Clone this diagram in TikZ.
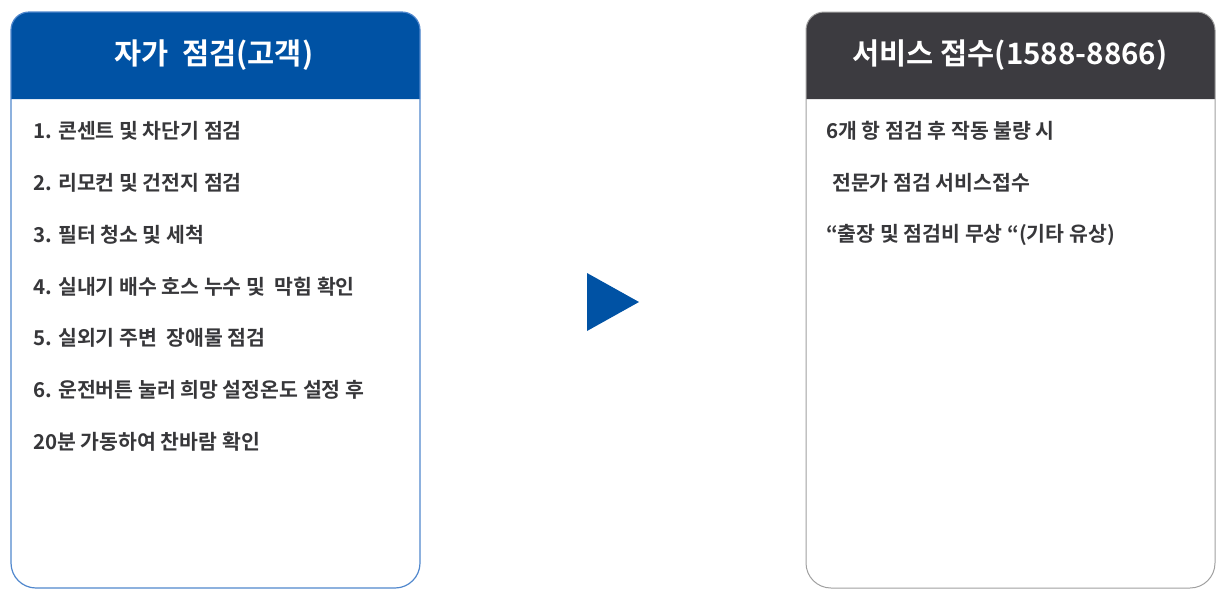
\documentclass[tikz,border=0pt]{standalone}
\usepackage{fontspec}
\setmainfont{Noto Sans CJK KR}[BoldFont={* Bold}]
\newfontfamily\kr{Noto Sans CJK KR}[BoldFont={* Bold}]
\definecolor{hblue}{RGB}{0,82,164}
\definecolor{bblue}{RGB}{80,135,205}
\definecolor{hgray}{RGB}{60,59,64}
\definecolor{bgray}{RGB}{160,160,160}
\definecolor{txt}{RGB}{55,55,58}
\tikzset{
  x=1pt,y=-1pt,
  item/.style={anchor=west,inner sep=0pt,font=\kr\bfseries\fontsize{20.5}{22}\selectfont,text=txt},
  title/.style={inner sep=0pt,font=\kr\bfseries\fontsize{29.5}{31}\selectfont,text=white},
}
\begin{document}
\begin{tikzpicture}
\useasboundingbox (0,0) rectangle (1228,595);
% left box
\fill[hblue] (11,99) -- (11,30) arc[start angle=180,end angle=270,radius=18] -- (402,12) arc[start angle=270,end angle=360,radius=18] -- (420,99) -- cycle;
\draw[bblue,line width=1.2pt] (11,99) -- (11,30) arc[start angle=180,end angle=270,radius=18] -- (402,12) arc[start angle=270,end angle=360,radius=18] -- (420,563) arc[start angle=0,end angle=90,radius=25] -- (36,588) arc[start angle=90,end angle=180,radius=25] -- cycle;
% right box
\fill[hgray] (806,99) -- (806,30) arc[start angle=180,end angle=270,radius=18] -- (1197,12) arc[start angle=270,end angle=360,radius=18] -- (1215,99) -- cycle;
\draw[bgray,line width=1pt] (806,99) -- (806,30) arc[start angle=180,end angle=270,radius=18] -- (1197,12) arc[start angle=270,end angle=360,radius=18] -- (1215,563) arc[start angle=0,end angle=90,radius=25] -- (831,588) arc[start angle=90,end angle=180,radius=25] -- cycle;
% titles
\node[title] (t1) at (214,55) {자가\ \ 점검(고객)};
\node[title] (t2) at (1010,55) {서비스 접수(1588-8866)};
% left items
\node[item] (a1) at (33,131) {1. 콘센트 및 차단기 점검};
\node[item] (a2) at (33,183) {2. 리모컨 및 건전지 점검};
\node[item] (a3) at (33,235) {3. 필터 청소 및 세척};
\node[item] (a4) at (33,287) {4. 실내기 배수 호스 누수 및\ \ 막힘 확인};
\node[item] (a5) at (33,338) {5. 실외기 주변\ \ 장애물 점검};
\node[item] (a6) at (33,390) {6. 운전버튼 눌러 희망 설정온도 설정 후};
\node[item] (a7) at (33,442) {20분 가동하여 찬바람 확인};
% right items
\node[item] (b1) at (826,131) {6개 항 점검 후 작동 불량 시};
\node[item] (b2) at (832,183) {전문가 점검 서비스접수};
\node[item] (b3) at (826,235) {“출장 및 점검비 무상 “(기타 유상)};
% arrow triangle
\fill[hblue] (587,273) -- (639,302) -- (587,331) -- cycle;
\end{tikzpicture}
\end{document}
